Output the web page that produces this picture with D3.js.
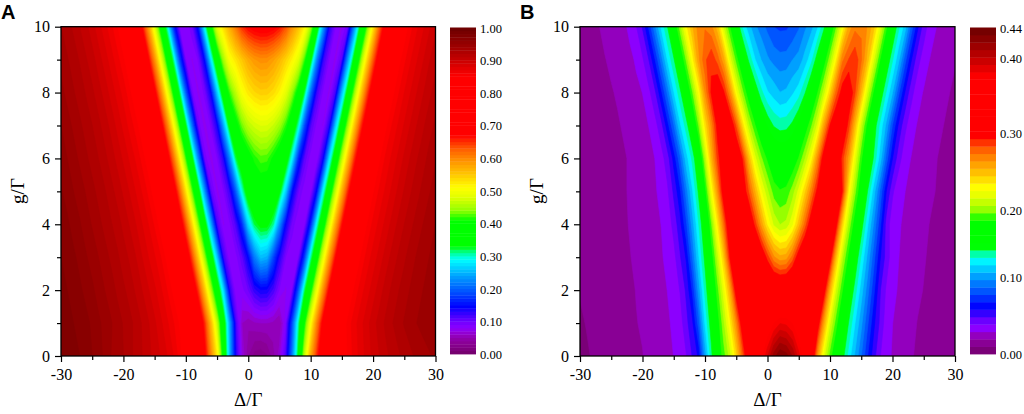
<!DOCTYPE html>
<html><head><meta charset="utf-8">
<script src="https://cdn.jsdelivr.net/npm/d3@7"></script>
<style>
body{margin:0;background:#fff}
svg{display:block}
</style>
</head><body>
<svg id="chart" width="1024" height="414"></svg>
<script>
// ---------- axes / grid definition ----------
const DELTA_MIN = -30, DELTA_MAX = 30, DELTA_STEP = 1;   // Δ/Γ columns (61)
const G_MIN = 0, G_MAX = 10, G_STEP = 1;                 // g/Γ rows (11)
const X_TICKS = [-30, -20, -10, 0, 10, 20, 30];
const X_MINOR = [-25, -15, -5, 5, 15, 25];
const Y_TICKS = [0, 2, 4, 6, 8, 10];
const Y_MINOR = [1, 3, 5, 7, 9];
const CB_A_TICKS = [0, 0.1, 0.2, 0.3, 0.4, 0.5, 0.6, 0.7, 0.8, 0.9, 1.0];
const CB_A_LABELS = ["0.00","0.10","0.20","0.30","0.40","0.50","0.60","0.70","0.80","0.90","1.00"];
const CB_B_TICKS = [0, 0.1, 0.2, 0.3, 0.4, 0.44];
const CB_B_POS = [0, 0.236, 0.442, 0.678, 0.908, 1];
const CB_B_LABELS = ["0.00","0.10","0.20","0.30","0.40","0.44"];

// ---------- panel A values, one row per g/Γ = 0..10, Δ/Γ = -30..30 ----------
const A_g0 = [.98,.977,.973,.97,.965,.96,.955,.947,.94,.935, .93,.923,.917,.91,.903,.896,.889,.88,.87,.855, .83,.795,.75,.68,.6,.52,.38,.25,.13,.07, .04,.025,.022,.028,.045,.065,.11,.21,.33,.46, .57,.65,.715,.765,.805,.835,.852,.864,.874,.884, .893,.9,.907,.913,.918,.923,.928,.932,.936,.939, .942];
const A_g1 = [.977,.974,.97,.967,.963,.958,.952,.947,.941,.935, .929,.923,.917,.909,.901,.892,.882,.872,.861,.848, .82,.775,.72,.65,.56,.46,.355,.24,.115,.06, .053,.058,.06,.06,.057,.05,.085,.18,.30,.403, .50,.60,.683,.745,.796,.836,.854,.866,.876,.886, .896,.904,.912,.919,.925,.931,.935,.94,.943,.945, .947];
const A_g2 = [.973,.97,.966,.962,.957,.952,.946,.94,.935,.928, .922,.916,.908,.9,.891,.882,.872,.86,.846,.817, .771,.715,.644,.552,.452,.364,.27,.13,.08,.085, .10,.125,.139,.137,.116,.088,.078,.09,.185,.312, .396,.492,.592,.676,.739,.792,.833,.852,.865,.875, .885,.895,.904,.912,.919,.925,.931,.935,.94,.943, .945];
const A_g3 = [.97,.966,.962,.957,.951,.946,.94,.934,.928,.922, .915,.908,.9,.89,.88,.871,.86,.845,.813,.767, .71,.636,.543,.443,.356,.258,.122,.08,.085,.106, .144,.216,.254,.246,.184,.129,.09,.08,.088,.172, .303,.388,.483,.583,.668,.734,.787,.83,.85,.864, .874,.884,.894,.903,.911,.918,.925,.931,.935,.94, .943];
const A_g4 = [.966,.962,.956,.951,.945,.939,.933,.927,.921,.915, .907,.899,.89,.88,.87,.858,.843,.81,.762,.704, .629,.534,.434,.349,.244,.115,.078,.087,.113,.167, .268,.32,.339,.338,.31,.228,.14,.096,.08,.083, .16,.294,.381,.474,.574,.661,.728,.782,.826,.849, .863,.873,.883,.893,.902,.91,.917,.924,.93,.936, .94];
const A_g5 = [.961,.956,.95,.945,.939,.933,.927,.921,.914,.906, .898,.889,.879,.869,.857,.842,.806,.758,.70,.622, .525,.425,.345,.231,.105,.077,.088,.12,.194,.294, .357,.38,.39,.388,.372,.336,.264,.149,.101,.082, .082,.147,.285,.374,.465,.565,.654,.723,.777,.822, .848,.862,.872,.882,.892,.901,.909,.916,.923,.929, .935];
const A_g6 = [.955,.95,.944,.938,.932,.926,.92,.913,.905,.897, .888,.878,.868,.856,.841,.802,.753,.694,.615,.516, .416,.335,.218,.096,.076,.089,.127,.217,.318,.365, .39,.414,.425,.423,.404,.38,.355,.284,.167,.107, .083,.08,.136,.274,.367,.456,.556,.647,.718,.773, .818,.847,.862,.872,.882,.892,.901,.909,.916,.923, .929];
const A_g7 = [.95,.944,.938,.932,.926,.92,.913,.905,.897,.887, .877,.866,.855,.839,.799,.748,.688,.607,.507,.408, .327,.206,.095,.075,.091,.133,.237,.339,.39,.432, .46,.473,.48,.479,.468,.448,.417,.372,.302,.185, .112,.084,.079,.127,.262,.36,.447,.547,.64,.712, .769,.815,.846,.86,.871,.881,.891,.9,.908,.916, .922];
const A_g8 = [.943,.937,.931,.925,.919,.912,.904,.896,.886,.876, .866,.853,.835,.795,.743,.68,.598,.498,.40,.318, .193,.092,.077,.093,.139,.257,.355,.418,.461,.502, .525,.538,.545,.544,.534,.516,.486,.444,.393,.319, .203,.118,.086,.078,.118,.25,.352,.438,.538,.632, .707,.764,.811,.844,.858,.87,.88,.89,.899,.907, .915];
const A_g9 = [.937,.931,.925,.919,.911,.904,.895,.885,.875,.864, .852,.832,.79,.737,.673,.59,.49,.393,.31,.18, .089,.078,.091,.145,.273,.37,.446,.503,.527,.55, .573,.588,.595,.594,.582,.564,.541,.517,.484,.42, .335,.219,.123,.087,.077,.11,.237,.345,.43,.53, .625,.70,.76,.808,.843,.857,.869,.879,.889,.899, .906];
const A_g10 = [.93,.924,.918,.91,.903,.894,.884,.874,.863,.85, .828,.785,.732,.666,.58,.48,.386,.30,.168,.086, .08,.097,.154,.286,.39,.482,.53,.569,.609,.65, .672,.683,.688,.687,.68,.664,.634,.592,.557,.515, .447,.35,.236,.13,.088,.076,.10,.224,.338,.42, .52,.618,.696,.755,.804,.84,.856,.868,.878,.888, .898];

// ---------- panel B values ----------
const B_g0 = [.008,.009,.01,.011,.012,.013,.014,.015,.016,.018, .019,.021,.023,.025,.027,.029,.032,.038,.049,.06, .10,.135,.17,.19,.21,.24,.276,.315,.34,.365, .39,.415,.43,.425,.41,.385,.355,.32,.26,.219, .19,.165,.145,.124,.105,.087,.068,.052,.039,.032, .028,.025,.022,.02,.018,.017,.016,.015,.014,.013, .012];
const B_g1 = [.009,.0098,.0108,.0118,.0128,.014,.015,.016,.017,.019, .02,.022,.024,.026,.028,.03,.034,.045,.056,.082, .119,.148,.176,.203,.231,.265,.305,.32,.33,.34, .355,.37,.38,.378,.37,.355,.34,.325,.305,.257, .216,.188,.161,.139,.118,.099,.079,.06,.046,.033, .029,.026,.023,.021,.019,.0178,.0166,.0155,.0145,.0135, .0126];
const B_g2 = [.0099,.0107,.0116,.0125,.0135,.0146,.0156,.0168,.018,.0195, .021,.023,.025,.027,.029,.032,.039,.05,.069,.101, .132,.16,.19,.22,.255,.302,.325,.34,.345,.34, .332,.326,.323,.325,.332,.342,.346,.342,.33,.303, .252,.212,.184,.157,.134,.112,.091,.07,.049,.037, .031,.028,.025,.0225,.0205,.019,.0175,.0163,.0152,.0142, .0134];
const B_g3 = [.0105,.0113,.0121,.013,.014,.015,.0162,.0175,.019,.0205, .022,.024,.026,.028,.031,.035,.047,.059,.087,.117, .144,.174,.209,.245,.294,.32,.335,.34,.33,.31, .287,.265,.256,.258,.276,.303,.322,.336,.34,.333, .302,.247,.207,.179,.152,.127,.104,.081,.059,.044, .033,.029,.026,.0235,.0215,.0198,.0183,.017,.0158,.0148, .0139];
const B_g4 = [.011,.0118,.0126,.0135,.0145,.0155,.0168,.0182,.0197,.0213, .023,.025,.027,.029,.032,.042,.054,.075,.102,.129, .155,.193,.233,.273,.315,.33,.332,.315,.288,.259, .232,.213,.205,.208,.222,.248,.276,.305,.325,.334, .325,.297,.24,.203,.174,.147,.12,.095,.071,.044, .033,.03,.027,.0245,.0225,.0207,.019,.0176,.0163,.0152, .0143];
const B_g5 = [.0115,.0123,.0131,.014,.015,.016,.017,.0185,.02,.0215, .023,.025,.028,.031,.037,.05,.065,.091,.117,.143, .177,.223,.262,.305,.322,.325,.306,.281,.253,.226, .207,.19,.185,.187,.2,.218,.242,.269,.297,.318, .33,.322,.291,.231,.198,.169,.14,.112,.085,.058, .04,.032,.029,.026,.024,.022,.0205,.019,.0176,.0164, .0153];
const B_g6 = [.012,.0126,.0134,.0142,.015,.016,.017,.0185,.02,.022, .024,.0265,.029,.0346,.0435,.061,.0836,.113,.132,.158, .205,.25,.285,.31,.323,.314,.291,.25,.218,.197, .181,.169,.165,.166,.171,.185,.205,.228,.265,.303, .316,.3155,.286,.258,.22,.186,.162,.138,.113,.083, .058,.042,.033,.0285,.0255,.023,.021,.0195,.018,.0166, .0155];
const B_g7 = [.0128,.0135,.0143,.015,.016,.017,.0185,.02,.022,.024, .0266,.029,.035,.0445,.063,.086,.1155,.134,.159,.196, .236,.265,.298,.318,.309,.28,.239,.207,.185,.165, .149,.139,.135,.136,.143,.155,.173,.193,.217,.2565, .293,.313,.313,.286,.249,.21,.178,.149,.126,.104, .0765,.0553,.0407,.033,.028,.025,.023,.021,.0195,.018, .0166];
const B_g8 = [.0136,.0143,.015,.016,.0172,.0187,.02,.022,.024,.027, .029,.036,.046,.065,.089,.117,.136,.162,.194,.227, .264,.294,.309,.294,.264,.226,.198,.173,.151,.132, .119,.113,.107,.109,.116,.124,.139,.159,.183,.209, .241,.277,.30,.307,.283,.25,.213,.181,.151,.128, .107,.079,.057,.0415,.033,.028,.0255,.023,.021,.0195, .018];
const B_g9 = [.0145,.015,.016,.0173,.019,.0205,.0225,.0245,.027,.03, .037,.048,.067,.091,.119,.138,.165,.197,.23,.261, .28,.29,.278,.256,.219,.19,.163,.1376,.1184,.1066, .098,.093,.09,.0905,.0962,.0999,.1113,.125,.1477,.174, .201,.2327,.2705,.283,.29,.274,.249,.216,.184,.153, .13,.109,.081,.0586,.042,.034,.0285,.026,.0236,.0216, .0197];
const B_g10 = [.015,.016,.017,.019,.021,.023,.025,.027,.031,.038, .049,.069,.094,.12,.14,.168,.20,.231,.252,.268, .272,.266,.2475,.2125,.183,.154,.127,.111,.0985,.091, .084,.077,.075,.0753,.079,.0855,.094,.1027,.116,.136, .166,.194,.225,.256,.27,.272,.262,.247,.219,.187, .1555,.131,.112,.083,.06,.043,.034,.029,.027,.024, .022];

const ROWS_A = [A_g0,A_g1,A_g2,A_g3,A_g4,A_g5,A_g6,A_g7,A_g8,A_g9,A_g10];
const ROWS_B = [B_g0,B_g1,B_g2,B_g3,B_g4,B_g5,B_g6,B_g7,B_g8,B_g9,B_g10];

// ---------- colour map (fraction of colour bar -> colour) ----------
const CMAP_POS = [0,.02,.04,.06,.08,.10,.12,.145,.19,.23,.26,.29,.31,.33,.41,.44,.48,.51,.55,.59,.63,.67,.85,.90,.95,1];
const CMAP_COL = ["#700068","#820085","#8c009c","#9400c4","#8c00ff","#7000ff","#4000ff","#0000ff","#0050ff","#0090ff","#00c8ff","#00ffff","#00ff9a","#00ff00","#00ff00","#90ff00","#e0ff00","#ffff00","#ffc800","#ff9600","#ff5a00","#ff0000","#ff0000","#c80000","#960000","#6b0000"];
const cmap = d3.scaleLinear().domain(CMAP_POS).range(CMAP_COL).interpolate(d3.interpolateRgb).clamp(true);

const SERIF = '"Liberation Serif","Times New Roman",serif';
const SANS = '"Liberation Sans",Arial,sans-serif';
const svg = d3.select("#chart");
const Y0 = 26.7, Y1 = 356;
const CB_TOP = 27.5, CB_BOT = 354;

function drawPanel(cfg) {
  const {x0, x1, rows, valueOfFrac, nBands, id, letter, letterX, yLabelX,
         cbX, cbTicks, cbTickFrac, cbLabels} = cfg;
  const x = d3.scaleLinear().domain([DELTA_MIN, DELTA_MAX]).range([x0, x1]);
  const y = d3.scaleLinear().domain([G_MIN, G_MAX]).range([Y1, Y0]);
  const nx = rows[0].length, ny = rows.length;
  const values = rows.flat();
  const fracs = d3.range(nBands).map(i => i / nBands);
  const levels = fracs.map(valueOfFrac);
  const colors = fracs.map(f => cmap(f + 0.5 / nBands));
  const contours = d3.contours().size([nx, ny]).thresholds(levels)(values);
  const proj = d3.geoTransform({
    point(px, py) {
      this.stream.point(x(DELTA_MIN + (px - 0.5) * DELTA_STEP), y(G_MIN + (py - 0.5) * G_STEP));
    }
  });
  const path = d3.geoPath(proj);

  svg.append("clipPath").attr("id", id).append("rect")
    .attr("x", x0).attr("y", Y0).attr("width", x1 - x0).attr("height", Y1 - Y0);
  const plot = svg.append("g").attr("clip-path", `url(#${id})`);
  plot.selectAll("path").data(contours).join("path")
    .attr("d", path)
    .attr("fill", (d, i) => colors[i])
    .attr("stroke", (d, i) => colors[i])
    .attr("stroke-width", 0.6);

  const styleAxis = g => {
    g.select(".domain").remove();
    g.selectAll("line").attr("stroke", "#000").attr("stroke-width", 1.2);
    g.selectAll("text").style("font-size", "16px").style("font-family", SERIF).attr("fill", "#000");
  };
  svg.append("g").attr("transform", `translate(0,${Y1})`)
    .call(d3.axisBottom(x).tickValues(X_TICKS).tickFormat(d => String(d)).tickSize(6).tickPadding(7)).call(styleAxis);
  svg.append("g").attr("transform", `translate(0,${Y1})`)
    .call(d3.axisBottom(x).tickValues(X_MINOR).tickFormat("").tickSize(4)).call(styleAxis);
  svg.append("g").attr("transform", `translate(${x0},0)`)
    .call(d3.axisLeft(y).tickValues(Y_TICKS).tickFormat(d => String(d)).tickSize(6).tickPadding(5)).call(styleAxis);
  svg.append("g").attr("transform", `translate(${x0},0)`)
    .call(d3.axisLeft(y).tickValues(Y_MINOR).tickFormat("").tickSize(4)).call(styleAxis);

  svg.append("rect").attr("x", x0).attr("y", Y0).attr("width", x1 - x0).attr("height", Y1 - Y0)
    .attr("fill", "none").attr("stroke", "#000").attr("stroke-width", 1.3);

  svg.append("text").attr("x", (x0 + x1) / 2).attr("y", 406).attr("text-anchor", "middle")
    .style("font-family", SERIF).style("font-size", "19px").text("Δ/Γ");
  svg.append("text").attr("transform", `translate(${yLabelX},191) rotate(-90)`).attr("text-anchor", "middle")
    .style("font-family", SERIF).style("font-size", "19px").text("g/Γ");
  svg.append("text").attr("x", letterX).attr("y", 19)
    .style("font-family", SANS).style("font-weight", "bold").style("font-size", "20px").text(letter);

  // colour bar
  const cbY = d3.scaleLinear().domain([0, 1]).range([CB_BOT, CB_TOP]);
  svg.append("g").selectAll("rect").data(fracs).join("rect")
    .attr("x", cbX).attr("width", 26)
    .attr("y", f => cbY(f + 1 / nBands))
    .attr("height", f => cbY(f) - cbY(f + 1 / nBands) + 0.4)
    .attr("fill", (f, i) => colors[i]);
  svg.append("g").selectAll("text").data(cbTicks).join("text")
    .attr("x", cbX + 30)
    .attr("y", (t, i) => cbY(cbTickFrac[i]) + 1)
    .attr("dominant-baseline", "central")
    .style("font-family", SERIF).style("font-size", "12.5px")
    .text((t, i) => cbLabels[i]);
}

drawPanel({
  x0: 61, x1: 435.5, rows: ROWS_A, valueOfFrac: f => f, nBands: 100, id: "clipA",
  letter: "A", letterX: 1, yLabelX: 24, cbX: 450,
  cbTicks: CB_A_TICKS, cbTickFrac: CB_A_TICKS, cbLabels: CB_A_LABELS
});
const fracToValB = d3.scaleLinear().domain(CB_B_POS).range(CB_B_TICKS);
drawPanel({
  x0: 580, x1: 955, rows: ROWS_B, valueOfFrac: f => fracToValB(f), nBands: 44, id: "clipB",
  letter: "B", letterX: 520, yLabelX: 543, cbX: 970,
  cbTicks: CB_B_TICKS, cbTickFrac: CB_B_POS, cbLabels: CB_B_LABELS
});
</script>
</body></html>
